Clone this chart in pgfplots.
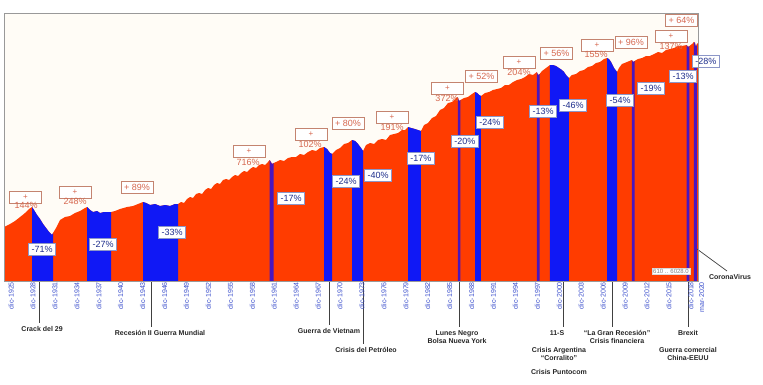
\documentclass[border=0pt]{standalone}
\usepackage{pgfplots}
\pgfplotsset{compat=1.18}
\usepackage{pgfplotstable}
\usepackage{fontspec}
\setmainfont{Liberation Sans}
\setsansfont{Liberation Sans}

\definecolor{cred}{RGB}{255,60,0}
\definecolor{cblue}{RGB}{16,24,245}
\definecolor{cthin}{RGB}{72,22,190}
\definecolor{plotbg}{RGB}{255,252,246}
\definecolor{posbox}{RGB}{196,132,112}
\definecolor{postext}{RGB}{214,104,80}
\definecolor{negbox}{RGB}{140,150,200}
\definecolor{negtext}{RGB}{30,46,140}
\definecolor{ticktext}{RGB}{60,80,205}

\pgfplotstableread{
year h
1925.51 54
1926.33 57
1927.01 60
1927.70 64
1928.38 68
1928.93 72
1929.34 74
1929.61 71
1930.02 66
1930.43 62
1930.85 57
1931.26 53
1931.67 49
1932.08 46
1932.21 48
1932.62 53
1933.17 61
1933.85 64
1934.54 65
1935.22 68
1935.91 70
1936.59 73
1936.86 74
1937.27 71
1937.69 69
1938.23 70
1938.64 68
1939.19 69
1939.74 69
1940.15 69
1940.69 70
1941.38 72
1942.34 74
1943.16 75
1943.84 77
1944.53 79
1944.94 78
1945.48 76
1946.17 77
1946.85 75
1947.53 76
1948.22 75
1948.90 77
1949.31 77
1949.72 79
1950.13 78
1950.54 82
1950.95 84
1951.36 83
1951.78 87
1952.19 88
1952.60 87
1953.01 91
1953.42 93
1953.83 92
1954.24 96
1954.65 98
1955.06 97
1955.47 101
1955.88 102
1956.29 101
1956.70 104
1957.11 106
1957.52 105
1957.93 108
1958.34 110
1958.75 109
1959.16 112
1959.57 114
1959.98 113
1960.39 116
1960.80 117
1961.21 116
1961.62 119
1961.85 121
1962.17 117
1962.40 118
1962.72 119
1963.27 121
1963.81 120
1964.36 123
1964.91 124
1965.46 124
1966.00 127
1966.55 126
1967.10 129
1967.64 131
1968.19 130
1968.74 133
1969.29 134
1969.70 132
1970.11 128
1970.38 127
1970.93 131
1971.47 133
1972.02 137
1972.57 138
1973.12 141
1973.53 140
1973.94 137
1974.35 133
1974.62 130
1975.03 136
1975.58 138
1976.13 137
1976.67 141
1977.22 142
1977.77 141
1978.31 146
1978.86 147
1979.41 148
1979.96 151
1980.37 151
1980.78 154
1981.19 153
1981.73 152
1982.14 151
1982.55 150
1982.97 156
1983.51 158
1984.06 163
1984.61 165
1985.15 171
1985.70 173
1986.25 178
1986.80 179
1987.21 182
1987.58 184
1987.75 180
1987.95 181
1988.44 183
1988.98 184
1989.53 187
1989.94 189
1990.22 188
1990.49 186
1990.76 185
1991.31 188
1991.86 189
1992.40 191
1992.95 192
1993.50 193
1994.05 196
1994.59 196
1995.14 199
1995.69 201
1996.24 202
1996.78 204
1997.33 207
1997.88 206
1998.40 209
1998.56 206
1998.78 207
1999.11 210
1999.66 213
2000.20 216
2000.61 216
2001.02 215
2001.43 213
2001.84 211
2002.12 209
2002.39 206
2002.80 203
2003.21 206
2003.76 207
2004.31 210
2004.85 211
2005.40 214
2005.95 215
2006.50 218
2007.04 219
2007.59 222
2008.00 223
2008.27 222
2008.55 219
2008.96 213
2009.37 209
2009.64 213
2010.05 217
2010.74 219
2011.40 221
2011.56 219
2011.78 220
2012.24 222
2012.79 223
2013.34 225
2013.88 225
2014.43 227
2014.98 229
2015.53 228
2016.08 231
2016.62 232
2017.17 233
2017.71 235
2018.26 235
2018.90 236
2019.08 234
2019.28 235
2019.63 237
2019.90 239
2020.04 238
2020.17 234
2020.31 237
2020.45 238
}\spdata

\tikzset{
  posb/.style={draw=posbox, fill=white, line width=0.6pt, minimum width=32pt, minimum height=12pt, inner sep=0pt, text=postext, font=\fontsize{8}{9}\selectfont},
  poss/.style={draw=posbox, fill=white, line width=0.6pt, minimum width=32pt, minimum height=12pt, inner sep=0pt, text=postext, font=\fontsize{9}{10}\selectfont},
  posn/.style={inner sep=0pt, text=postext, font=\fontsize{9}{10}\selectfont},
  neg/.style={draw=negbox, fill=white, line width=0.5pt, minimum width=27pt, minimum height=12pt, inner sep=0pt, text=negtext, font=\fontsize{9}{10}\selectfont},
  ann/.style={inner sep=0pt, align=center, font=\bfseries\fontsize{7}{8}\selectfont, text=black!85},
  annl/.style={draw=black!75, line width=0.7pt},
}

\begin{document}
\begin{tikzpicture}[x=1pt,y=1pt]
\useasboundingbox (0,0) rectangle (763,384);
\fill[white] (0,0) rectangle (763,384);
\begin{axis}[
  at={(4pt,103pt)}, anchor=south west,
  scale only axis, width=694pt, height=268pt,
  xmin=1925.5, xmax=2020.45, ymin=0, ymax=268,
  axis background/.style={fill=plotbg},
  axis line style={draw=black!40, line width=0.7pt},
  ytick=\empty,
  xtick={1925.92,1928.92,1931.92,1934.92,1937.92,1940.92,1943.92,1946.92,1949.92,1952.92,1955.92,1958.92,1961.92,1964.92,1967.92,1970.92,1973.92,1976.92,1979.92,1982.92,1985.92,1988.92,1991.92,1994.92,1997.92,2000.92,2003.92,2006.92,2009.92,2012.92,2015.92,2018.92,2020.4},
  xticklabels={dic-1925,dic-1928,dic-1931,dic-1934,dic-1937,dic-1940,dic-1943,dic-1946,dic-1949,dic-1952,dic-1955,dic-1958,dic-1961,dic-1964,dic-1967,dic-1970,dic-1973,dic-1976,dic-1979,dic-1982,dic-1985,dic-1988,dic-1991,dic-1994,dic-1997,dic-2000,dic-2003,dic-2006,dic-2009,dic-2012,dic-2015,dic-2018,mar-2020},
  major tick length=0pt,
  xticklabel style={rotate=90, anchor=east, font=\fontsize{7}{8}\selectfont, text=ticktext, inner sep=1pt, yshift=-4pt},
  clip=false,
  axis on top,
]
\addplot[fill=cred, draw=none] table[x=year,y=h] {\spdata} \closedcycle;
% drawdown bands
\addplot[fill=cblue, draw=none, restrict x to domain=1929.33:1932.22] table[x=year,y=h] {\spdata} \closedcycle;
\addplot[fill=cblue, draw=none, restrict x to domain=1936.85:1940.16] table[x=year,y=h] {\spdata} \closedcycle;
\addplot[fill=cblue, draw=none, restrict x to domain=1944.52:1949.32] table[x=year,y=h] {\spdata} \closedcycle;
\addplot[fill=cthin, draw=none, restrict x to domain=1961.84:1962.41] table[x=year,y=h] {\spdata} \closedcycle;
\addplot[fill=cblue, draw=none, restrict x to domain=1969.28:1970.39] table[x=year,y=h] {\spdata} \closedcycle;
\addplot[fill=cblue, draw=none, restrict x to domain=1973.11:1974.63] table[x=year,y=h] {\spdata} \closedcycle;
\addplot[fill=cblue, draw=none, restrict x to domain=1980.77:1982.56] table[x=year,y=h] {\spdata} \closedcycle;
\addplot[fill=cthin, draw=none, restrict x to domain=1987.57:1987.96] table[x=year,y=h] {\spdata} \closedcycle;
\addplot[fill=cblue, draw=none, restrict x to domain=1989.93:1990.77] table[x=year,y=h] {\spdata} \closedcycle;
\addplot[fill=cthin, draw=none, restrict x to domain=1998.39:1998.79] table[x=year,y=h] {\spdata} \closedcycle;
\addplot[fill=cblue, draw=none, restrict x to domain=2000.19:2002.81] table[x=year,y=h] {\spdata} \closedcycle;
\addplot[fill=cblue, draw=none, restrict x to domain=2007.99:2009.38] table[x=year,y=h] {\spdata} \closedcycle;
\addplot[fill=cthin, draw=none, restrict x to domain=2011.39:2011.79] table[x=year,y=h] {\spdata} \closedcycle;
\addplot[fill=cthin, draw=none, restrict x to domain=2018.89:2019.29] table[x=year,y=h] {\spdata} \closedcycle;
\addplot[fill=cthin, draw=none, restrict x to domain=2019.89:2020.32] table[x=year,y=h] {\spdata} \closedcycle;

% positive labels
\node[posb] at (axis cs:1928.45,83.5) {+};
\node[posn] at (axis cs:1928.52,76) {144\%};
\node[posb] at (axis cs:1935.22,89) {+};
\node[posn] at (axis cs:1935.22,80) {248\%};
\node[poss] at (axis cs:1943.70,94) {+ 89\%};
\node[posb] at (axis cs:1959.03,129.5) {+};
\node[posn] at (axis cs:1958.89,119) {716\%};
\node[posb] at (axis cs:1967.51,147) {+};
\node[posn] at (axis cs:1967.37,137) {102\%};
\node[poss] at (axis cs:1972.57,158) {+ 80\%};
\node[posb] at (axis cs:1978.59,164) {+};
\node[posn] at (axis cs:1978.59,154) {191\%};
\node[posb] at (axis cs:1986.18,193) {+};
\node[posn] at (axis cs:1986.11,183) {372\%};
\node[poss] at (axis cs:1990.83,205) {+ 52\%};
\node[posb] at (axis cs:1995.96,219) {+};
\node[posn] at (axis cs:1995.96,209) {204\%};
\node[poss] at (axis cs:2001.09,228) {+ 56\%};
\node[posb] at (axis cs:2006.63,236) {+};
\node[posn] at (axis cs:2006.50,227) {155\%};
\node[poss] at (axis cs:2011.28,239) {+ 96\%};
\node[posb] at (axis cs:2016.76,245) {+};
\node[posn] at (axis cs:2016.76,235) {137\%};
\node[poss] at (axis cs:2018.19,261) {+ 64\%};

% negative labels
\node[neg] at (axis cs:1930.71,32) {-71\%};
\node[neg] at (axis cs:1939.05,37) {-27\%};
\node[neg] at (axis cs:1948.49,49) {-33\%};
\node[neg] at (axis cs:1964.77,83) {-17\%};
\node[neg] at (axis cs:1972.30,100) {-24\%};
\node[neg] at (axis cs:1976.67,106) {-40\%};
\node[neg] at (axis cs:1982.55,123) {-17\%};
\node[neg] at (axis cs:1988.57,140) {-20\%};
\node[neg] at (axis cs:1991.99,159) {-24\%};
\node[neg] at (axis cs:1999.25,170) {-13\%};
\node[neg] at (axis cs:2003.35,176) {-46\%};
\node[neg] at (axis cs:2009.78,181) {-54\%};
\node[neg] at (axis cs:2014.02,193) {-19\%};
\node[neg] at (axis cs:2018.40,205) {-13\%};
\node[neg] at (axis cs:2021.54,220) {-28\%};

\node[fill=white, draw=black!15, inner sep=1pt, text=black!50, font=\fontsize{6}{7}\selectfont] at (axis cs:2016.76,10) {610 .. 6028.0};

% event annotations
\draw[annl] (axis cs:1930.30,0) -- (axis cs:1930.30,-42);
\node[ann] at (axis cs:1930.71,-48) {Crack del 29};
\draw[annl] (axis cs:1945.62,0) -- (axis cs:1945.62,-46);
\node[ann] at (axis cs:1946.85,-52) {Recesión II Guerra Mundial};
\draw[annl] (axis cs:1969.97,0) -- (axis cs:1969.97,-44);
\node[ann] at (axis cs:1969.97,-50) {Guerra de Vietnam};
\draw[annl] (axis cs:1974.62,0) -- (axis cs:1974.62,-63);
\node[ann] at (axis cs:1975.03,-69) {Crisis del Petróleo};
\draw[annl] (axis cs:1987.75,0) -- (axis cs:1987.75,-46);
\node[ann] at (axis cs:1987.48,-56) {Lunes Negro\\Bolsa Nueva York};
\draw[annl] (axis cs:2001.98,0) -- (axis cs:2001.98,-46);
\node[ann] at (axis cs:2001.16,-52) {11-S};
\node[ann] at (axis cs:2001.43,-73) {Crisis Argentina\\``Corralito''};
\node[ann] at (axis cs:2001.43,-91) {Crisis Puntocom};
\draw[annl] (axis cs:2008.68,0) -- (axis cs:2008.68,-46);
\node[ann] at (axis cs:2009.37,-56) {``La Gran Recesión''\\Crisis financiera};
\draw[annl] (axis cs:2019.08,0) -- (axis cs:2019.08,-46);
\node[ann] at (axis cs:2019.08,-52) {Brexit};
\node[ann] at (axis cs:2019.08,-73) {Guerra comercial\\China-EEUU};
\draw[annl] (axis cs:2020.31,32) -- (axis cs:2024.42,10);
\node[ann] at (axis cs:2024.83,4) {CoronaVirus};
\end{axis}
\end{tikzpicture}
\end{document}
